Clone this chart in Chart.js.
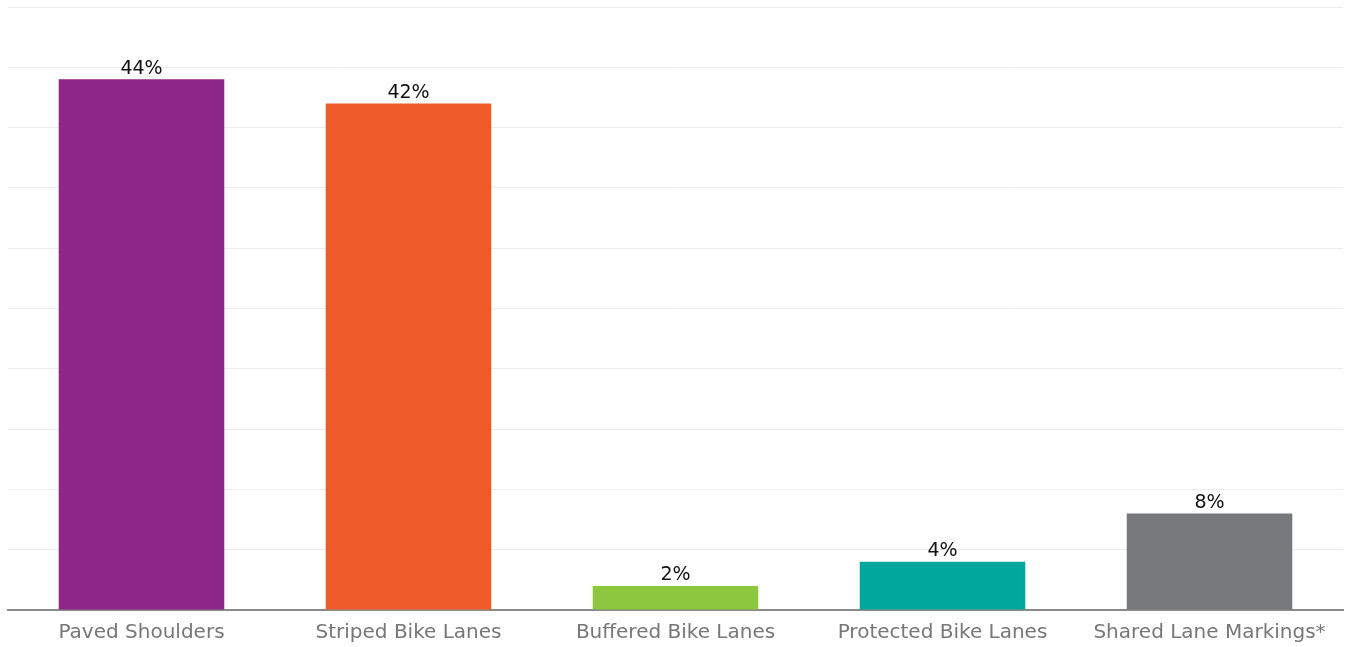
<!DOCTYPE html>
<html>
<head>
<meta charset="utf-8">
<script src="https://cdn.jsdelivr.net/npm/chart.js@4.4.1/dist/chart.umd.min.js"></script>
<style>
    html, body { margin: 0; padding: 0; background: #fff; }
    #wrap { width: 1350px; height: 647px; }
</style>
</head>
<body>
<div id="wrap"><canvas id="facilityChart" width="1350" height="647"></canvas></div>
<script>
const categories = ['Paved Shoulders', 'Striped Bike Lanes', 'Buffered Bike Lanes', 'Protected Bike Lanes', 'Shared Lane Markings*'];
const shares = [44, 42, 2, 4, 8];
const barColors = ['#8E2689', '#EF5A2B', '#8DC63F', '#00A79D', '#77787B'];

// draws the percentage above each bar
const valueLabels = {
    id: 'valueLabels',
    afterDatasetsDraw(chart) {
        const ctx = chart.ctx;
        const meta = chart.getDatasetMeta(0);
        ctx.save();
        ctx.font = '19px "DejaVu Sans", sans-serif';
        ctx.fillStyle = '#111';
        ctx.textAlign = 'center';
        ctx.textBaseline = 'bottom';
        meta.data.forEach((bar, i) => {
            ctx.fillText(shares[i] + '%', bar.x, bar.y - 1);
        });
        ctx.restore();
    }
};

new Chart(document.getElementById('facilityChart'), {
    type: 'bar',
    data: {
        labels: categories,
        datasets: [{
            data: shares,
            backgroundColor: barColors,
            barPercentage: 0.62,
            categoryPercentage: 1
        }]
    },
    options: {
        responsive: false,
        animation: false,
        layout: { padding: { top: 7, left: 8, right: 7, bottom: -9 } },
        plugins: { legend: { display: false }, tooltip: { enabled: false } },
        scales: {
            x: {
                grid: { display: false, drawTicks: false },
                border: { color: '#8a8a8a', width: 2 },
                ticks: { color: '#777', font: { family: 'DejaVu Sans', size: 20, lineHeight: 1 }, padding: 13, maxRotation: 0 }
            },
            y: {
                min: 0,
                max: 50,
                ticks: { stepSize: 5, display: false },
                grid: { color: '#ececec', drawTicks: false },
                border: { display: false }
            }
        }
    },
    plugins: [valueLabels]
});
</script>
</body>
</html>
